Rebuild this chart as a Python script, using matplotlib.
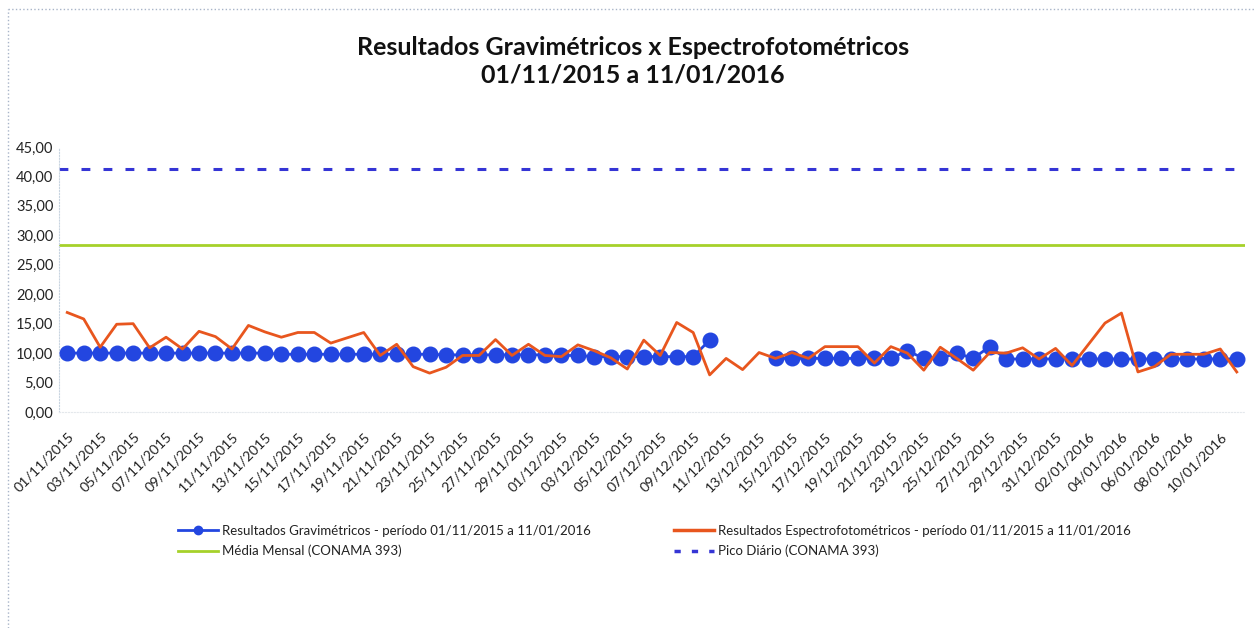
import matplotlib
matplotlib.use("Agg")
import matplotlib.pyplot as plt
import numpy as np
import pandas as pd
from matplotlib.lines import Line2D

plt.rcParams['font.family'] = ['Lato', 'DejaVu Sans']

# ---- data ----
dates = pd.date_range("2015-11-01", "2016-01-11", freq="D")
date_labels = [d.strftime("%d/%m/%Y") for d in dates]

gravimetricos = [10.0, 10.0, 10.0, 10.0, 10.0, 10.0, 10.0, 10.0, 10.0, 10.0,
                 10.0, 10.0, 10.0, 9.8, 9.8, 9.8, 9.8, 9.8, 9.8, 9.8,
                 9.8, 9.8, 9.8, 9.7, 9.7, 9.7, 9.7, 9.7, 9.7, 9.7,
                 9.6, 9.6, 9.4, 9.4, 9.4, 9.4, 9.4, 9.4, 9.4, 12.2,
                 np.nan, np.nan, np.nan, 9.1, 9.1, 9.1, 9.1, 9.1, 9.1, 9.1,
                 9.1, 10.4, 9.1, 9.1, 10.0, 9.1, 11.1, 9.0, 9.0, 9.0,
                 9.0, 9.0, 9.0, 9.0, 9.0, 9.0, 9.0, 9.0, 9.0, 9.0,
                 9.0, 9.0]

espectrofotometricos = [16.9, 15.8, 11.0, 14.9, 15.0, 10.9, 12.7, 10.7, 13.7, 12.8,
                        10.7, 14.7, 13.6, 12.7, 13.5, 13.5, 11.7, 12.6, 13.5, 9.6,
                        11.5, 7.7, 6.6, 7.6, 9.6, 9.6, 12.3, 9.6, 11.5, 9.6,
                        9.4, 11.4, 10.4, 9.2, 7.3, 12.2, 9.6, 15.2, 13.5, 6.3,
                        9.1, 7.2, 10.1, 9.1, 10.1, 9.1, 11.1, 11.1, 11.1, 8.3,
                        11.1, 10.0, 7.1, 11.0, 9.1, 7.1, 10.1, 10.0, 10.9, 9.0,
                        10.8, 7.9, 11.5, 15.1, 16.8, 6.8, 7.7, 9.8, 9.8, 9.8,
                        10.7, 6.8]

media_mensal = 28.4
pico_diario = 41.3

yticks = [0, 5, 10, 15, 20, 25, 30, 35, 40, 45]

title = "Resultados Gravimétricos x Espectrofotométricos\n01/11/2015 a 11/01/2016"
lbl_grav = "Resultados Gravimétricos - período 01/11/2015 a 11/01/2016"
lbl_esp = "Resultados Espectrofotométricos - período 01/11/2015 a 11/01/2016"
lbl_media = "Média Mensal (CONAMA 393)"
lbl_pico = "Pico Diário (CONAMA 393)"

# ---- figure ----
W, H = 1255, 628
fig = plt.figure(figsize=(W / 100, H / 100), dpi=100)
ax = fig.add_axes([59 / W, 1 - 412 / H, 1186 / W, 265 / H])

x = np.arange(len(dates))
c_blue = '#2346E0'
c_red = '#E8561E'
c_green = '#A6D12A'
c_pico = '#3535D5'

ax.plot(x, gravimetricos, color=c_blue, lw=2.0, marker='o', markersize=10.5,
        markerfacecolor=c_blue, markeredgecolor=c_blue, zorder=3)
ax.plot(x, espectrofotometricos, color=c_red, lw=2.0, zorder=4)
ax.axhline(media_mensal, color=c_green, lw=2.0, zorder=2)
ax.axhline(pico_diario, color=c_pico, lw=2.2, linestyle=(0, (2.9, 4.3)), zorder=2)

ax.set_xlim(-0.5, len(dates) - 0.5)
ax.set_ylim(0, 45)
ax.set_yticks(yticks)
ax.set_yticklabels([f"{v:.2f}".replace('.', ',') for v in yticks], fontsize=10.5, color='#222222')
ax.set_xticks(x[::2])
ax.set_xticklabels(date_labels[::2], rotation=45, ha='right', rotation_mode='anchor',
                   fontsize=10.2, color='#222222')
ax.tick_params(axis='both', length=0)
ax.tick_params(axis='x', pad=13)
ax.tick_params(axis='y', pad=4)
for s in ['top', 'right']:
    ax.spines[s].set_visible(False)
ax.spines['left'].set_color('#C8D4E0')
ax.spines['left'].set_linestyle(':')
ax.spines['bottom'].set_color('#E4E8EC')
ax.spines['bottom'].set_linestyle(':')

fig.text(633 / W, 1 - 61 / H, title, ha='center', va='center', fontsize=18,
         fontweight='bold', linespacing=1.25, color='#111111')

h_grav = Line2D([], [], color=c_blue, lw=2, marker='o', markersize=6)
h_esp = Line2D([], [], color=c_red, lw=2.5)
h_media = Line2D([], [], color=c_green, lw=2)
h_pico = Line2D([], [], color=c_pico, lw=2.5, linestyle=(0, (1.8, 3.2)))

leg1 = fig.legend(handles=[h_grav, h_media], labels=[lbl_grav, lbl_media],
                  loc='upper left', bbox_to_anchor=(178 / W, 1 - 525 / H),
                  frameon=False, fontsize=9.5, handlelength=3.0, handletextpad=0.3,
                  labelspacing=0.6, borderpad=0, borderaxespad=0)
leg2 = fig.legend(handles=[h_esp, h_pico], labels=[lbl_esp, lbl_pico],
                  loc='upper left', bbox_to_anchor=(674 / W, 1 - 525 / H),
                  frameon=False, fontsize=9.5, handlelength=3.0, handletextpad=0.3,
                  labelspacing=0.6, borderpad=0, borderaxespad=0)
for leg in (leg1, leg2):
    for t in leg.get_texts():
        t.set_color('#222222')

# scanned page border (left and top)
fig.add_artist(Line2D([8 / W, 8 / W], [0, 1 - 9 / H], transform=fig.transFigure,
                      color='#A8B4C8', lw=1, linestyle=':'))
fig.add_artist(Line2D([8 / W, 1], [1 - 9 / H, 1 - 9 / H], transform=fig.transFigure,
                      color='#A8B4C8', lw=1, linestyle=':'))

fig.savefig("out.png", dpi=100)
